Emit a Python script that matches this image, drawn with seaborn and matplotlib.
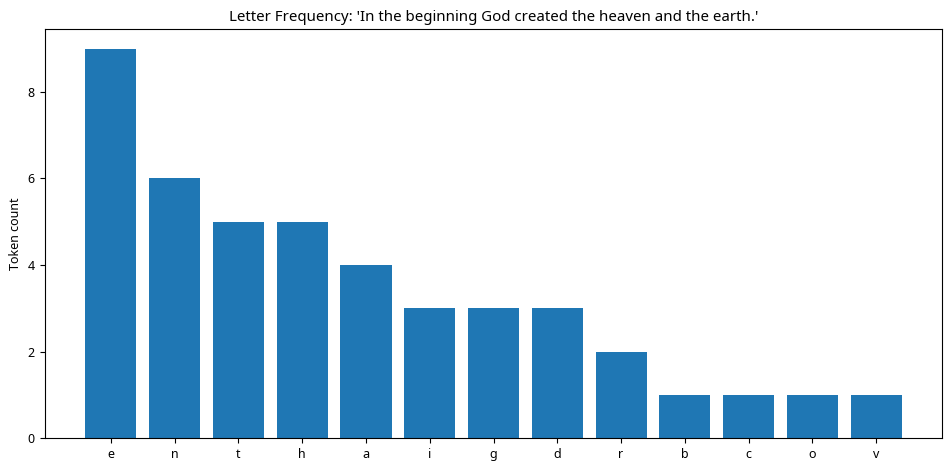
import matplotlib
matplotlib.use("Agg")
import matplotlib.pyplot as plt
import seaborn as sns
import pandas as pd

letters = ["e", "n", "t", "h", "a", "i", "g", "d", "r", "b", "c", "o", "v"]
counts = [9, 6, 5, 5, 4, 3, 3, 3, 2, 1, 1, 1, 1]

df = pd.DataFrame({"letter": letters, "count": counts})

sns.set_style("ticks")
plt.rcParams["font.family"] = ["Noto Sans", "DejaVu Sans"]
plt.rcParams["font.size"] = 9
for k in ["text.color", "axes.labelcolor", "xtick.color", "ytick.color"]:
    plt.rcParams[k] = "black"

fig, ax = plt.subplots(figsize=(9.5, 4.7), dpi=100)
sns.barplot(data=df, x="letter", y="count", color="#1f77b4", saturation=1,
            width=0.8, linewidth=0, ax=ax)

ax.set_xlim(-1.04, 13.04)
ax.set_ylim(0, 9.45)
ax.set_xlabel("")
ax.set_ylabel("Token count")
ax.set_title("Letter Frequency: 'In the beginning God created the heaven and the earth.'")
ax.tick_params(length=3.5, width=0.8)
for s in ax.spines.values():
    s.set_visible(True)
    s.set_color("black")
    s.set_linewidth(0.8)

fig.subplots_adjust(left=0.047, right=0.992, top=0.938, bottom=0.068)
fig.savefig("out.png", dpi=100)
